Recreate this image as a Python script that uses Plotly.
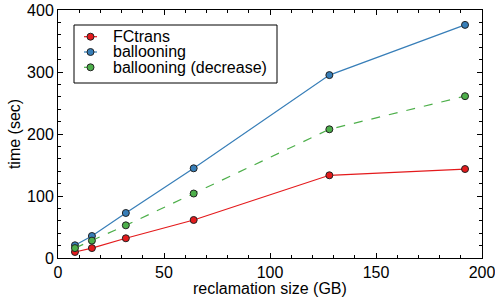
import plotly.graph_objects as go

sizes = [8, 16, 32, 64, 128, 192]
fctrans = [9.7, 16, 31.8, 61.3, 133.4, 143.5]
ballooning = [20.5, 35.5, 72.6, 144.7, 295, 376]
ballooning_dec = [16, 28, 52.7, 104, 207.6, 261]

series_names = ["FCtrans", "ballooning", "ballooning (decrease)"]
colors = ["#e41a1c", "#377eb8", "#4daf4a"]
dashes = ["solid", "solid", "dash"]
x_title = "reclamation size (GB)"
y_title = "time (sec)"

FONT = "Liberation Sans, Arial, Helvetica, sans-serif"
W, H = 495, 301
ML, MR, MT, MB = 58, 13, 10, 43
PW, PH = W - ML - MR, H - MT - MB


def px_x(px):
    return (px - ML) / PW


def px_y(py):
    return (H - MB - py) / PH


fig = go.Figure()
for name, ys, c, d in zip(series_names, [fctrans, ballooning, ballooning_dec], colors, dashes):
    fig.add_trace(go.Scatter(
        x=sizes, y=ys, name=name, mode="lines+markers",
        line=dict(color=c, width=1.2, dash=d),
        marker=dict(color=c, size=7, line=dict(color="#222222", width=1)),
        showlegend=False,
    ))

axis_common = dict(
    showline=True, linecolor="black", linewidth=1, mirror="allticks",
    ticks="inside", ticklen=5, tickcolor="black", tickwidth=1,
    showgrid=False, zeroline=False, automargin=False,
    ticklabeloverflow="allow",
    tickfont=dict(family=FONT, size=16, color="black"),
)

fig.update_xaxes(range=[0, 200], tick0=0, dtick=50,
                 minor=dict(dtick=10, ticks="inside", ticklen=3, tickcolor="black", showgrid=False),
                 **axis_common)
fig.update_yaxes(range=[0, 400], tick0=0, dtick=100,
                 minor=dict(dtick=20, ticks="inside", ticklen=3, tickcolor="black", showgrid=False),
                 title=dict(text=y_title, font=dict(family=FONT, size=16, color="black"), standoff=2),
                 **axis_common)

# custom legend (compact, like the reference)
shapes = [dict(type="rect", xref="paper", yref="paper",
               x0=px_x(74), x1=px_x(277), y0=px_y(83), y1=px_y(25),
               line=dict(color="black", width=1), fillcolor="white", layer="above")]
annotations = [dict(xref="paper", yref="paper", x=0.5, y=px_y(288),
                    xanchor="center", yanchor="middle", showarrow=False,
                    text=x_title, font=dict(family=FONT, size=16, color="black"))]
for i, (name, c, d) in enumerate(zip(series_names, colors, dashes)):
    ry = px_y(36.7 + i * 15.3)
    shapes.append(dict(type="line", xref="paper", yref="paper",
                       x0=px_x(84), x1=px_x(97), y0=ry, y1=ry,
                       line=dict(color=c, width=1.2, dash=d), layer="above"))
    shapes.append(dict(type="circle", xref="paper", yref="paper",
                       xsizemode="pixel", ysizemode="pixel",
                       xanchor=px_x(90.5), yanchor=ry,
                       x0=-3.5, x1=3.5, y0=-3.5, y1=3.5,
                       fillcolor=c, line=dict(color="#222222", width=1), layer="above"))
    annotations.append(dict(xref="paper", yref="paper", x=px_x(111), y=ry,
                            xanchor="left", yanchor="middle", showarrow=False,
                            text=name, font=dict(family=FONT, size=16, color="black")))

fig.update_layout(
    width=W, height=H,
    margin=dict(l=ML, r=MR, t=MT, b=MB, autoexpand=False),
    paper_bgcolor="white", plot_bgcolor="white",
    font=dict(family=FONT, size=16, color="black"),
    showlegend=False,
    shapes=shapes, annotations=annotations,
)

fig.write_html(
    "out.html",
    config={"displayModeBar": False},
    post_script="document.body.style.margin='0';document.body.style.overflow='hidden';",
)
